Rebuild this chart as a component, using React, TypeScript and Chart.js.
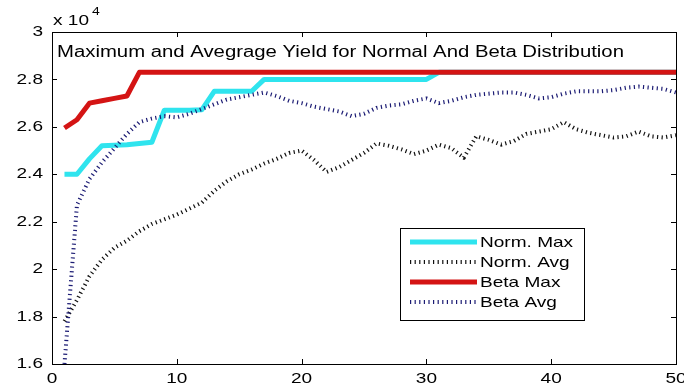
import { useEffect, useRef } from "react";
import { Chart, registerables } from "chart.js";

Chart.register(...registerables);

// Generation index along the x axis
const GENERATIONS = [
  1, 2, 3, 4, 5, 6, 7, 8, 9, 10, 11, 12, 13, 14, 15, 16, 17, 18, 19, 20, 21, 22, 23, 24, 25,
  26, 27, 28, 29, 30, 31, 32, 33, 34, 35, 36, 37, 38, 39, 40, 41, 42, 43, 44, 45, 46, 47, 48, 49, 50,
];

// Yields in units of 10^4
const NORM_MAX = [
  2.4, 2.4, 2.465, 2.52, 2.522, 2.525, 2.53, 2.535, 2.67, 2.67, 2.67, 2.672, 2.75, 2.75, 2.75, 2.75,
  2.8, 2.8, 2.8, 2.8, 2.8, 2.8, 2.8, 2.8, 2.8, 2.8, 2.8, 2.8, 2.8, 2.8,
  2.83, 2.83, 2.83, 2.83, 2.83, 2.83, 2.83, 2.83, 2.83, 2.83, 2.83, 2.83, 2.83, 2.83, 2.83, 2.83,
  2.83, 2.83, 2.83, 2.83,
];

const NORM_AVG = [
  1.78, 1.87, 1.97, 2.04, 2.09, 2.12, 2.16, 2.19, 2.21, 2.23, 2.255, 2.28, 2.33, 2.37, 2.4, 2.42,
  2.445, 2.465, 2.49, 2.5, 2.46, 2.41, 2.43, 2.46, 2.49, 2.53, 2.52, 2.505, 2.485, 2.5, 2.525,
  2.51, 2.47, 2.56, 2.545, 2.525, 2.54, 2.57, 2.58, 2.59, 2.62, 2.59, 2.575, 2.565, 2.555, 2.56,
  2.58, 2.56, 2.555, 2.565,
];

const BETA_MAX = [
  2.595, 2.63, 2.7, 2.71, 2.72, 2.73, 2.83, 2.83, 2.83, 2.83, 2.83, 2.83, 2.83, 2.83, 2.83, 2.83,
  2.83, 2.83, 2.83, 2.83, 2.83, 2.83, 2.83, 2.83, 2.83, 2.83, 2.83, 2.83, 2.83, 2.83, 2.83, 2.83,
  2.83, 2.83, 2.83, 2.83, 2.83, 2.83, 2.83, 2.83, 2.83, 2.83, 2.83, 2.83, 2.83, 2.83, 2.83, 2.83,
  2.83, 2.83,
];

const BETA_AVG = [
  1.6, 2.27, 2.38, 2.45, 2.51, 2.57, 2.62, 2.635, 2.645, 2.64, 2.655, 2.675, 2.695, 2.715, 2.725,
  2.735, 2.745, 2.73, 2.71, 2.7, 2.685, 2.675, 2.665, 2.645, 2.655, 2.68, 2.69, 2.695, 2.71, 2.72,
  2.7, 2.71, 2.725, 2.735, 2.74, 2.745, 2.745, 2.735, 2.72, 2.725, 2.74, 2.75, 2.75, 2.75, 2.755,
  2.765, 2.77, 2.765, 2.76, 2.745,
];

const SERIES_NAMES = ["Norm. Max", "Norm. Avg", "Beta Max", "Beta Avg"];

const X_TICKS = [0, 10, 20, 30, 40, 50];
const Y_TICKS = [1.6, 1.8, 2, 2.2, 2.4, 2.6, 2.8, 3];
const Y_TICK_LABELS = ["1.6", "1.8", "2", "2.2", "2.4", "2.6", "2.8", "3"];

const TITLE = "Maximum and Avegrage Yield for Normal And Beta Distribution";
const MULTIPLIER = "x 10";
const EXPONENT = "4";

const FONT = '"Liberation Sans", Arial, sans-serif';
const STRETCH = 1.27;

function stretchedText(
  ctx: CanvasRenderingContext2D,
  text: string,
  x: number,
  y: number,
  size: number,
  align: CanvasTextAlign,
  baseline: CanvasTextBaseline
) {
  ctx.save();
  ctx.font = `${size}px ${FONT}`;
  ctx.fillStyle = "#000";
  ctx.textAlign = align;
  ctx.textBaseline = baseline;
  ctx.translate(x, y);
  ctx.scale(STRETCH, 1);
  ctx.fillText(text, 0, 0);
  ctx.restore();
}

const figurePlugin = {
  id: "figureDecor",
  beforeDraw(chart: any) {
    const ctx = chart.ctx as CanvasRenderingContext2D;
    ctx.save();
    ctx.fillStyle = "#fff";
    ctx.fillRect(0, 0, chart.width, chart.height);
    ctx.restore();
  },
  afterDraw(chart: any) {
    const ctx = chart.ctx as CanvasRenderingContext2D;
    const { left, right, top, bottom } = chart.chartArea;
    const xs = chart.scales.x;
    const ys = chart.scales.y;

    // axes box
    ctx.save();
    ctx.strokeStyle = "#000";
    ctx.lineWidth = 1;
    ctx.setLineDash([]);
    ctx.strokeRect(Math.round(left) + 0.5, Math.round(top) + 0.5, Math.round(right - left), Math.round(bottom - top));

    // inward ticks
    const tl = 5;
    ctx.beginPath();
    X_TICKS.forEach((v) => {
      const px = Math.round(xs.getPixelForValue(v)) + 0.5;
      ctx.moveTo(px, bottom);
      ctx.lineTo(px, bottom - tl);
      ctx.moveTo(px, top);
      ctx.lineTo(px, top + tl);
    });
    Y_TICKS.forEach((v) => {
      const py = Math.round(ys.getPixelForValue(v)) + 0.5;
      ctx.moveTo(left, py);
      ctx.lineTo(left + tl, py);
      ctx.moveTo(right, py);
      ctx.lineTo(right - tl, py);
    });
    ctx.stroke();
    ctx.restore();

    // tick labels
    X_TICKS.forEach((v) => {
      stretchedText(ctx, String(v), xs.getPixelForValue(v), bottom + 19, 15, "center", "alphabetic");
    });
    Y_TICKS.forEach((v, i) => {
      stretchedText(ctx, Y_TICK_LABELS[i], left - 9, ys.getPixelForValue(v), 15, "right", "middle");
    });

    // exponent label
    stretchedText(ctx, MULTIPLIER, left + 1, top - 7, 15, "left", "alphabetic");
    stretchedText(ctx, EXPONENT, left + 40, top - 17, 11, "left", "alphabetic");

    // title inside the axes
    stretchedText(ctx, TITLE, left + 5, top + 25, 16, "left", "alphabetic");

    // legend
    const bx = 400;
    const by = 228;
    const bw = 184;
    const bh = 92;
    ctx.save();
    ctx.fillStyle = "#fff";
    ctx.fillRect(bx, by, bw, bh);
    ctx.strokeStyle = "#000";
    ctx.lineWidth = 1;
    ctx.strokeRect(bx + 0.5, by + 0.5, bw, bh);
    ctx.restore();
    const metas = chart.data.datasets;
    metas.forEach((ds: any, i: number) => {
      const ry = by + 14 + i * 20;
      ctx.save();
      ctx.strokeStyle = ds.borderColor;
      ctx.lineWidth = ds.borderWidth;
      ctx.lineCap = "butt";
      ctx.setLineDash(ds.borderDash || []);
      ctx.beginPath();
      ctx.moveTo(bx + 10, ry);
      ctx.lineTo(bx + 77, ry);
      ctx.stroke();
      ctx.restore();
      stretchedText(ctx, SERIES_NAMES[i], bx + 80, ry + 5, 15, "left", "alphabetic");
    });
  },
};

function series(values: number[]) {
  return GENERATIONS.map((g, i) => ({ x: g, y: values[i] }));
}

export default function App() {
  const canvasRef = useRef<HTMLCanvasElement | null>(null);

  useEffect(() => {
    if (!canvasRef.current) return;
    const dotted = [1.2, 3.4];
    const chart = new Chart(canvasRef.current, {
      type: "line",
      data: {
        datasets: [
          {
            label: SERIES_NAMES[0],
            data: series(NORM_MAX),
            borderColor: "#2fe4ee",
            borderWidth: 5,
            order: 3,
          },
          {
            label: SERIES_NAMES[1],
            data: series(NORM_AVG),
            borderColor: "#111111",
            borderWidth: 4,
            borderDash: dotted,
            order: 2,
          },
          {
            label: SERIES_NAMES[2],
            data: series(BETA_MAX),
            borderColor: "#d41414",
            borderWidth: 5,
            order: 1,
          },
          {
            label: SERIES_NAMES[3],
            data: series(BETA_AVG),
            borderColor: "#1c1c74",
            borderWidth: 4,
            borderDash: dotted,
            order: 0,
          },
        ],
      },
      options: {
        animation: false,
        responsive: false,
        events: [],
        layout: { padding: { left: 52, top: 32, right: 8, bottom: 23 } },
        elements: {
          point: { radius: 0 },
          line: { tension: 0, borderCapStyle: "butt", borderJoinStyle: "round", fill: false },
        },
        scales: {
          x: { type: "linear", min: 0, max: 50, display: false },
          y: { type: "linear", min: 1.6, max: 3, display: false },
        },
        plugins: {
          legend: { display: false },
          title: { display: false },
          tooltip: { enabled: false },
        },
      },
      plugins: [figurePlugin],
    });
    return () => chart.destroy();
  }, []);

  return (
    <div style={{ position: "fixed", left: 0, top: 0, width: 684, height: 387, background: "#fff" }}>
      <canvas ref={canvasRef} width={684} height={387} />
    </div>
  );
}
